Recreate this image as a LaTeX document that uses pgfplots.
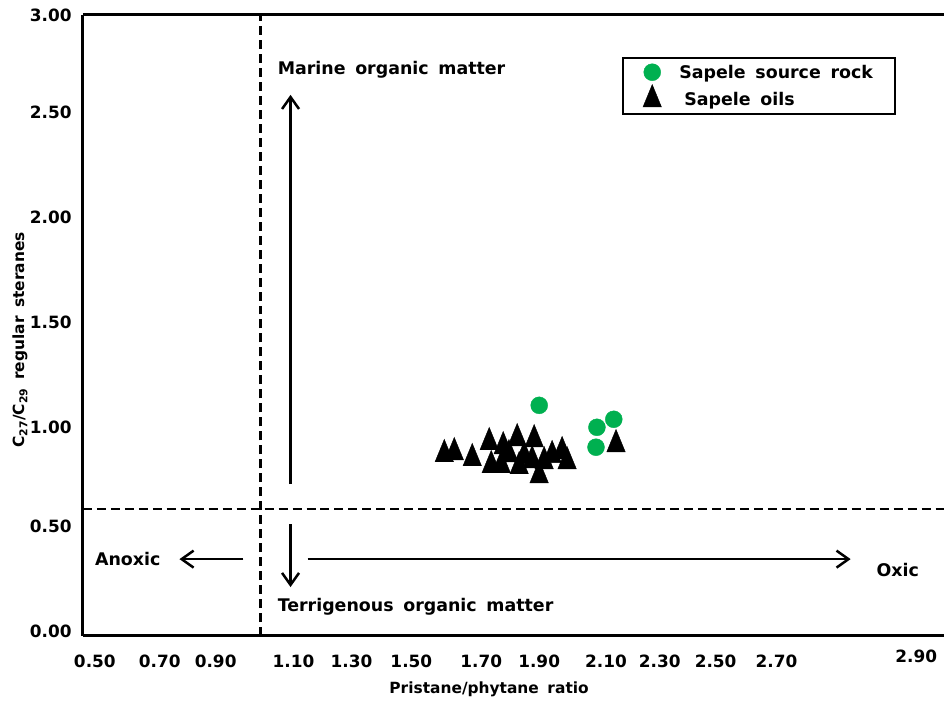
\documentclass[border=0pt]{standalone}
\usepackage{fontspec}
\setmainfont{DejaVu Sans}[WordSpace=1.6]
\usepackage{pgfplots}
\pgfplotsset{compat=1.18}
\usetikzlibrary{arrows.meta}
\definecolor{sgreen}{RGB}{0,176,80}
\newcommand{\tf}{\fontsize{17}{19}\selectfont\bfseries}
\newcommand{\af}{\fontsize{17.5}{20}\selectfont\bfseries}
\newcommand{\lf}{\fontsize{15.5}{18}\selectfont\bfseries}

\pgfplotstableread{
x y
1.913 1.099
2.098 0.992
2.152 1.031
2.095 0.895
}\rocks

\pgfplotstableread{
x y
1.6088 0.8605
1.6408 0.870
1.6984 0.841
1.7528 0.919
1.7592 0.807
1.7976 0.899
1.7912 0.807
1.8424 0.938
1.8488 0.802
1.8648 0.851
1.8968 0.933
1.8904 0.831
1.9128 0.758
1.9544 0.856
1.9864 0.875
2.0024 0.826
2.1592 0.909
1.8160 0.860
1.9288 0.826
}\oils

\begin{document}
\begin{tikzpicture}
\begin{axis}[
  scale only axis,
  width=862bp, height=622bp,
  xmin=0.4504, xmax=3.2088,
  ymin=-0.0243, ymax=3.0,
  axis x line*=bottom, axis y line*=left,
  axis line style={line width=3bp},
  tick style={draw=none},
  xtick={0.4888,0.6968,0.876,1.1256,1.3112,1.5032,1.7272,1.9128,2.1272,2.2992,2.4784,2.6736},
  xticklabels={0.50,0.70,0.90,1.10,1.30,1.50,1.70,1.90,2.10,2.30,2.50,2.70},
  extra x ticks={3.1216},
  extra x tick labels={2.90},
  extra x tick style={xticklabel style={yshift=5bp}},
  ytick={0,0.51,0.9919,1.5024,2.0129,2.5235,3.0},
  yticklabels={0.00,0.50,1.00,1.50,2.00,2.50,3.00},
  xticklabel style={font=\tf, anchor=center, yshift=-25bp},
  yticklabel style={font=\tf, anchor=east, xshift=-11bp, inner sep=0pt},
  xlabel={Pristane/phytane ratio},
  xlabel style={font=\lf, at={(axis description cs:0.472,0)}, anchor=center, yshift=-53bp},
  ylabel={C\textsubscript{27}/C\textsubscript{29} regular steranes},
  ylabel style={font=\lf, at={(axis description cs:-0.073,0.477)}, anchor=center},
  clip=false,
  legend cell align=left,
  legend style={at={(rel axis cs:0.6265,0.9325)}, anchor=north west, draw=black, line width=2bp,
    font=\af, row sep=3bp, column sep=16bp, inner xsep=20bp, inner ysep=5bp},
]
% reference lines
\draw[line width=3bp] (rel axis cs:0,1) -- (rel axis cs:1,1);
\draw[line width=2.5bp, dash pattern=on 9bp off 5bp] (axis cs:1.02,-0.0243) -- (axis cs:1.02,3.0);
\draw[line width=2.5bp, dash pattern=on 9bp off 5bp] (axis cs:0.4504,0.593) -- (axis cs:3.2088,0.593);

\addplot[only marks, mark=*, mark size=8.5bp, mark options={fill=sgreen, draw=sgreen, line width=0.4pt}] table[x=x,y=y] {\rocks};
\addlegendentry{Sapele source rock}
\addplot[only marks, mark=triangle*, mark size=13bp, mark options={fill=black, draw=black, line width=0.4pt, xscale=0.82, yscale=1.15}] table[x=x,y=y] {\oils};
\addlegendentry{\hspace{5bp}Sapele oils}

% arrows
\tikzset{myarr/.style={line width=2.5bp, -{Straight Barb[length=12bp,width=17bp,line width=2.5bp]}}}
\draw[myarr] (axis cs:1.116,0.715) -- (axis cs:1.116,2.611);
\draw[myarr] (axis cs:1.116,0.520) -- (axis cs:1.116,0.214);
\draw[myarr] (axis cs:0.9648,0.350) -- (axis cs:0.7600,0.350);
\draw[myarr] (axis cs:1.1704,0.350) -- (axis cs:2.9112,0.350);

% annotations
\node[anchor=west, font=\af, inner sep=0pt] at (axis cs:1.0744,2.733) {Marine organic matter};
\node[anchor=west, font=\af, inner sep=0pt] at (axis cs:1.0744,0.1167) {Terrigenous organic matter};
\node[anchor=west, font=\af, inner sep=0pt] at (axis cs:0.4888,0.350) {Anoxic};
\node[anchor=west, font=\af, inner sep=0pt] at (axis cs:2.9936,0.2966) {Oxic};
\end{axis}
\path (current axis.south west) ++(-83bp,-68bp);
\path (current axis.north east) ++(0bp,15bp);
\end{tikzpicture}
\end{document}
